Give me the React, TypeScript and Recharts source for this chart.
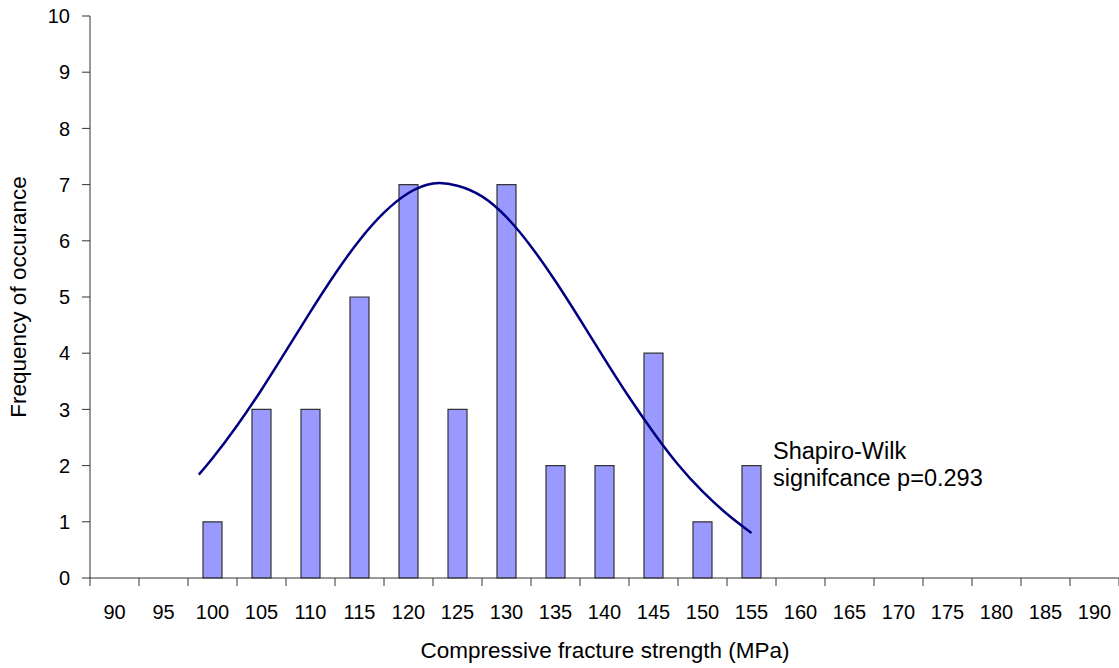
import { ComposedChart, Bar, Line, XAxis, YAxis } from 'recharts';

// histogram bins (MPa) and how many specimens fell in each
const binCentres = [90, 95, 100, 105, 110, 115, 120, 125, 130, 135, 140, 145, 150, 155, 160, 165, 170, 175, 180, 185, 190];
const binCounts = [0, 0, 1, 3, 3, 5, 7, 3, 7, 2, 2, 4, 1, 2, 0, 0, 0, 0, 0, 0, 0];

// fitted normal curve, sampled along the strength axis
const fitStrength = [98.6, 100, 102.5, 105, 107.5, 110, 112.5, 115, 117.5, 120, 122.5, 125, 127.5, 130, 132.5, 135, 137.5, 140, 142.5, 145, 147.5, 150, 152.5, 155];
const fitFrequency = [1.84, 2.13, 2.71, 3.35, 4.04, 4.74, 5.41, 6.01, 6.5, 6.85, 7.02, 6.98, 6.79, 6.42, 5.9, 5.28, 4.6, 3.9, 3.22, 2.59, 2.02, 1.54, 1.14, 0.8];

const binEdges = [87.5, 92.5, 97.5, 102.5, 107.5, 112.5, 117.5, 122.5, 127.5, 132.5, 137.5, 142.5, 147.5, 152.5, 157.5, 162.5, 167.5, 172.5, 177.5, 182.5, 187.5, 192.5];
const yTicks = [0, 1, 2, 3, 4, 5, 6, 7, 8, 9, 10];

const X_DOMAIN: [number, number] = [87.5, 192.5];
const FONT = '"Liberation Sans", Arial, sans-serif';
const AXIS = '#333';

const WIDTH = 1119;
const HEIGHT = 668;
const Y_AXIS_W = 90;
// half a bin in pixels: tick marks sit on bin edges, labels go in the middle
const HALF_BIN = (WIDTH - Y_AXIS_W) / binCentres.length / 2;

const histData = binCentres.map((x, i) => ({ x, count: binCounts[i] }));
const fitData = fitStrength.map((x, i) => ({ x, fit: fitFrequency[i] }));

const BinTick = (props: any) => {
  const { x, y, index } = props;
  if (index >= binCentres.length) return <g />;
  return (
    <text x={x + HALF_BIN} y={y + 33} textAnchor="middle" fontFamily={FONT} fontSize={20} fill="#000">
      {binCentres[index]}
    </text>
  );
};

export default function App() {
  return (
    <div style={{ position: 'absolute', left: 0, top: 0, width: WIDTH, height: HEIGHT, background: '#fff' }}>
      <ComposedChart width={WIDTH} height={HEIGHT} data={histData} margin={{ top: 16, right: 0, bottom: 0, left: 0 }}>
        <XAxis
          type="number"
          dataKey="x"
          domain={X_DOMAIN}
          ticks={binEdges}
          interval={0}
          tick={<BinTick />}
          tickSize={8}
          tickMargin={0}
          stroke={AXIS}
          height={90}
        />
        {/* separate axis for the curve so its samples don't shrink the bars */}
        <XAxis xAxisId="fit" type="number" dataKey="x" domain={X_DOMAIN} hide />
        <YAxis
          domain={[0, 10]}
          ticks={yTicks}
          interval={0}
          width={Y_AXIS_W}
          tickSize={8}
          tickMargin={12}
          stroke={AXIS}
          tick={{ fill: '#000', fontFamily: FONT, fontSize: 20 }}
        />
        <Bar dataKey="count" barSize={19} fill="#9999ff" stroke="#333" strokeWidth={1.2} isAnimationActive={false} />
        <Line
          xAxisId="fit"
          data={fitData}
          dataKey="fit"
          type="natural"
          stroke="#000080"
          strokeWidth={2.5}
          dot={false}
          isAnimationActive={false}
        />
        <text x={18} y={297} transform="rotate(-90 18 297)" textAnchor="middle" dominantBaseline="central" fontFamily={FONT} fontSize={22.5} fill="#000">
          Frequency of occurance
        </text>
        <text x={605} y={658} textAnchor="middle" fontFamily={FONT} fontSize={22.5} fill="#000">
          Compressive fracture strength (MPa)
        </text>
        <text x={773} y={459} fontFamily={FONT} fontSize={23.5} fill="#000">
          <tspan x={773}>Shapiro-Wilk</tspan>
          <tspan x={773} dy={27}>signifcance p=0.293</tspan>
        </text>
      </ComposedChart>
    </div>
  );
}
